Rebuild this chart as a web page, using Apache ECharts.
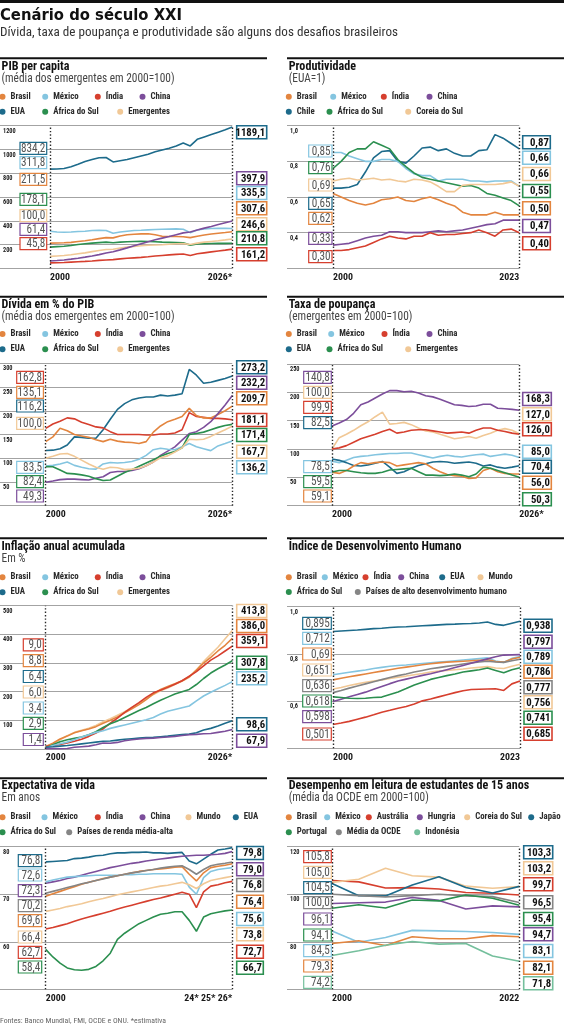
<!DOCTYPE html>
<html lang="pt-BR">
<head>
<meta charset="utf-8">
<title>Cenário do século XXI</title>
<script src="https://cdn.jsdelivr.net/npm/echarts@6.0.0/dist/echarts.min.js"></script>
<style>
html,body{margin:0;padding:0;background:#ffffff;}
#chart{width:564px;height:1024px;}
</style>
</head>
<body>
<div id="chart"></div>
<script>
// ================= CATEGORIES & TICK LABELS =================
const years2000to2026 = [2000,2001,2002,2003,2004,2005,2006,2007,2008,2009,2010,2011,2012,2013,2014,2015,2016,2017,2018,2019,2020,2021,2022,2023,2024,2025,2026];
const years2000to2023 = [2000,2001,2002,2003,2004,2005,2006,2007,2008,2009,2010,2011,2012,2013,2014,2015,2016,2017,2018,2019,2020,2021,2022,2023];
const pisaYears = [2000,2003,2006,2009,2012,2015,2018,2022];
const ticksTo2026 = ['2000','2026*'];
const ticksTo2023 = ['2000','2023'];
const ticksLife = ['2000','24* 25* 26*'];
const ticksPisa = ['2000','2022'];

// ================= PIB per capita =================
const pibEUA        = [834.2,836,840,855,875,898,915,930,932,895,905,915,930,945,960,980,995,1010,1030,1055,1030,1085,1105,1125,1145,1165,1189.1];
const pibMexico     = [311.8,305,303,305,310,312,318,320,318,295,305,312,318,320,323,326,328,330,332,328,300,322,332,335,336,336,335.5];
const pibBrasil     = [211.5,213,215,218,226,232,240,250,258,256,272,282,286,290,291,282,270,268,268,266,258,270,280,288,295,301,307.6];
const pibAfrica     = [178.1,182,186,192,200,206,212,216,220,215,220,224,226,227,226,224,220,218,216,214,195,205,208,209,210,210,210.8];
const pibEmergentes = [100.0,104,108,114,122,130,140,150,158,160,170,178,184,190,194,196,198,202,206,208,200,212,220,226,232,239,246.6];
const pibChina      = [61.4,65,70,77,85,94,104,115,128,140,155,172,190,207,224,240,254,268,283,298,306,322,338,352,368,383,397.9];
const pibIndia      = [45.8,47,49,52,55,58,62,67,70,73,79,84,88,92,97,103,108,113,117,120,108,122,130,138,146,153,161.2];

// ================= Produtividade =================
const prodChile  = [0.65,0.65,0.655,0.67,0.74,0.82,0.855,0.86,0.80,0.79,0.83,0.875,0.88,0.86,0.87,0.845,0.83,0.83,0.86,0.865,0.95,0.93,0.90,0.87];
const prodMexico = [0.85,0.85,0.83,0.815,0.80,0.80,0.81,0.81,0.80,0.76,0.73,0.72,0.72,0.69,0.70,0.70,0.70,0.69,0.69,0.685,0.69,0.69,0.69,0.66];
const prodAfrica = [0.76,0.80,0.85,0.87,0.87,0.91,0.89,0.87,0.81,0.77,0.735,0.71,0.70,0.69,0.68,0.67,0.66,0.665,0.65,0.62,0.61,0.595,0.58,0.55];
const prodCoreia = [0.69,0.70,0.705,0.695,0.70,0.705,0.695,0.70,0.69,0.685,0.70,0.695,0.685,0.66,0.63,0.63,0.665,0.67,0.67,0.67,0.67,0.675,0.685,0.66];
const prodBrasil = [0.62,0.60,0.58,0.565,0.555,0.565,0.585,0.59,0.60,0.58,0.575,0.59,0.60,0.585,0.565,0.55,0.515,0.50,0.50,0.50,0.515,0.50,0.50,0.50];
const prodChina  = [0.33,0.335,0.34,0.355,0.37,0.38,0.385,0.405,0.405,0.40,0.40,0.40,0.405,0.41,0.405,0.41,0.415,0.425,0.435,0.445,0.45,0.47,0.47,0.47];
const prodIndia  = [0.30,0.30,0.305,0.315,0.325,0.345,0.365,0.38,0.37,0.365,0.38,0.38,0.40,0.385,0.39,0.39,0.395,0.40,0.415,0.40,0.38,0.415,0.42,0.40];

// ================= Dívida em % do PIB =================
const divEUA        = [116.2,117,120,128,145,144,142,142,160,182,203,215,223,227,229,229,233,231,233,236,287,275,258,260,264,268,273.2];
const divIndia      = [162.8,172,178,185,183,176,171,166,164,156,150,150,150,150,149,149,151,151,153,160,196,188,186,184,184,183,181.1];
const divBrasil     = [135.1,145,163,158,150,147,144,139,135,140,136,134,133,131,135,155,168,177,182,188,205,190,185,185,192,200,209.7];
const divChina      = [49.3,52,55,56,56,55,54,58,61,70,72,72,74,78,84,92,106,115,124,138,152,156,165,177,194,212,232.2];
const divMexico     = [83.5,85,88,92,85,81,78,77,88,91,90,91,93,98,106,118,121,119,118,124,131,124,120,116,126,131,136.2];
const divAfrica     = [82.4,82,75,68,67,65,62,57,53,54,62,70,76,83,90,97,104,110,114,122,150,152,155,160,165,169,171.4];
const divEmergentes = [100.0,104,109,110,104,96,88,81,77,81,80,76,77,79,84,92,101,105,113,122,140,139,140,146,153,160,167.7];

// ================= Taxa de poupança =================
const poupChina      = [140.8,146,152,163,178,183,190,197,203,203,201,202,199,194,192,188,183,178,177,175,176,179,179,172,171,170,168.3];
const poupEmergentes = [100.0,120,126,133,141,148,157,165,144,145,147,143,137,132,130,126,122,118,120,122,119,124,128,133,136,133,127.0];
const poupIndia      = [99.9,102,106,112,118,122,126,131,135,128,130,133,134,134,132,130,128,129,130,128,133,137,137,133,131,128,126.0];
const poupMexico     = [78.5,76,80,85,87,88,90,91,92,92,93,93,90,87,84,87,89,87,86,88,90,91,87,89,91,89,85.0];
const poupEUA        = [82.5,80,76,71,70,72,75,78,68,57,60,66,71,74,77,78,77,75,76,77,75,70,72,68,66,68,70.4];
const poupBrasil     = [59.1,57,62,70,76,74,76,77,76,70,72,74,76,74,66,60,55,53,52,48,49,62,66,60,57,56,56.0];
const poupAfrica     = [59.5,62,62,60,58,57,57,59,63,64,65,66,60,54,54,53,54,56,54,51,56,68,66,62,58,54,50.3];

// ================= Inflação anual acumulada =================
const inflEmergentes = [6.0,18,32,46,58,65,72,82,95,106,118,130,145,160,175,190,203,213,225,236,250,276,305,330,355,385,413.8];
const inflBrasil     = [8.8,20,35,45,57,64,70,78,90,100,112,126,140,155,172,192,208,218,228,238,252,275,300,320,342,362,386.0];
const inflIndia      = [9.0,12,16,21,27,34,44,56,70,90,108,128,145,162,180,196,205,215,226,238,254,270,290,310,325,342,359.1];
const inflAfrica     = [2.9,15,25,32,37,42,50,60,75,88,98,110,122,134,145,158,170,181,192,200,208,225,246,265,280,293,307.8];
const inflMexico     = [3.4,12,18,24,32,42,50,58,64,72,78,84,90,96,102,110,122,132,138,144,150,168,185,198,210,222,235.2];
const inflEUA        = [6.4,8,10,12,15,18,21,24,27,28,31,34,36,38,40,41,43,45,48,50,52,57,66,72,80,90,98.6];
const inflChina      = [1.4,2,1,2,6,8,10,15,21,20,23,29,32,35,37,38,40,42,44,47,50,51,53,54,58,62,67.9];

// ================= IDH =================
const idhEUA    = [0.895,0.897,0.899,0.901,0.904,0.907,0.909,0.912,0.914,0.915,0.917,0.919,0.921,0.923,0.925,0.926,0.928,0.929,0.931,0.935,0.925,0.921,0.930,0.938];
const idhMexico = [0.712,0.717,0.722,0.727,0.732,0.738,0.743,0.748,0.751,0.753,0.756,0.759,0.762,0.765,0.768,0.771,0.774,0.777,0.780,0.783,0.770,0.764,0.781,0.789];
const idhBrasil = [0.69,0.697,0.703,0.709,0.715,0.721,0.727,0.733,0.739,0.744,0.749,0.754,0.758,0.762,0.765,0.767,0.769,0.771,0.773,0.775,0.768,0.765,0.778,0.786];
const idhMundo  = [0.651,0.658,0.666,0.673,0.680,0.685,0.690,0.696,0.701,0.706,0.712,0.717,0.723,0.727,0.730,0.733,0.736,0.740,0.743,0.746,0.740,0.738,0.748,0.756];
const idhAlto   = [0.636,0.645,0.655,0.664,0.673,0.682,0.691,0.700,0.708,0.715,0.723,0.730,0.737,0.742,0.747,0.752,0.757,0.762,0.766,0.769,0.766,0.764,0.771,0.777];
const idhChina  = [0.598,0.608,0.618,0.628,0.638,0.650,0.662,0.674,0.685,0.693,0.701,0.709,0.716,0.724,0.733,0.742,0.751,0.760,0.770,0.779,0.788,0.795,0.796,0.797];
const idhAfrica = [0.618,0.615,0.612,0.611,0.612,0.615,0.617,0.628,0.639,0.653,0.668,0.680,0.692,0.700,0.708,0.715,0.723,0.728,0.733,0.740,0.730,0.720,0.733,0.741];
const idhIndia  = [0.501,0.507,0.514,0.523,0.532,0.542,0.553,0.561,0.570,0.577,0.588,0.601,0.609,0.618,0.627,0.636,0.644,0.649,0.650,0.651,0.652,0.645,0.673,0.685];

// ================= Expectativa de vida =================
const expEUA    = [76.8,76.9,77.0,77.1,77.5,77.6,77.8,78.1,78.2,78.5,78.7,78.7,78.8,78.8,78.9,78.7,78.7,78.6,78.7,78.8,77.0,76.4,77.4,78.4,79.3,79.5,79.8];
const expChina  = [72.3,72.6,72.9,73.3,73.6,74.0,74.4,74.8,75.2,75.6,75.9,76.2,76.5,76.7,77.0,77.2,77.4,77.6,77.8,78.0,78.1,78.2,78.2,78.3,78.4,78.6,79.0];
const expMexico = [72.6,73.0,73.3,73.6,73.7,73.8,73.9,74.0,74.0,74.0,74.0,74.1,74.1,74.2,74.2,74.3,74.3,74.3,74.3,74.2,71.5,70.0,73.5,74.8,75.2,75.4,75.6];
const expBrasil = [69.6,70.1,70.6,71.1,71.6,72.1,72.5,72.9,73.3,73.6,73.9,74.2,74.5,74.8,75.0,75.2,75.3,75.5,75.7,75.8,74.2,72.8,74.5,75.6,75.9,76.1,76.4];
const expRenda  = [70.2,70.6,71.0,71.4,71.8,72.2,72.5,72.9,73.2,73.6,73.9,74.2,74.5,74.7,75.0,75.2,75.5,75.7,75.9,76.0,75.2,74.2,75.2,76.0,76.3,76.5,76.8];
const expMundo  = [66.4,66.7,67.0,67.4,67.7,68.0,68.4,68.8,69.1,69.5,69.9,70.2,70.5,70.8,71.1,71.4,71.7,71.9,72.2,72.5,72.0,71.2,72.2,72.9,73.2,73.5,73.8];
const expIndia  = [62.7,63.0,63.4,63.8,64.3,64.8,65.2,65.6,66.0,66.4,66.9,67.3,67.7,68.1,68.5,68.9,69.2,69.6,70.0,70.4,70.0,67.2,70.5,71.7,72.0,72.4,72.7];
const expAfrica = [58.4,56.8,55.5,54.5,54.1,54.0,54.2,54.8,56.0,57.6,60.5,61.8,62.8,63.8,64.5,65.2,65.8,66.0,66.3,66.3,64.5,62.2,65.2,65.9,66.2,66.5,66.7];

// ================= Leitura (PISA) =================
const leiAustralia = [105.8,105.2,102.6,102.8,102.2,100.7,100.4,99.7];
const leiCoreia    = [105.0,106.3,110.9,107.8,107.2,103.4,102.5,103.2];
const leiJapao     = [104.5,99.4,99.3,103.9,107.4,102.8,100.5,103.3];
const leiOCDE      = [100.0,99.4,98.9,99.4,100.0,99.3,99.0,96.5];
const leiHungria   = [96.1,96.4,96.7,98.6,97.4,93.8,95.1,94.7];
const leiPortugal  = [94.1,95.6,94.2,97.6,97.2,99.7,98.3,95.4];
const leiMexico    = [84.5,79.8,81.8,84.8,84.6,84.3,83.9,83.1];
const leiBrasil    = [79.3,80.4,78.4,82.1,81.3,81.3,82.6,82.1];
const leiIndonesia = [74.2,76.2,78.5,80.1,79.0,79.3,74.0,71.8];

// ================= FONT PICK & WIDTH CALIBRATION =================
const cv = document.createElement('canvas').getContext('2d');
const tw = (font, s) => { cv.font = font; return cv.measureText(s).width; };
const probe = 'abcdefghijklmnopqrstuvwxyzABCDEFGHIJ0123456789';
const has = (fam) => ['monospace','serif'].some(g => Math.abs(tw('20px "' + fam + '", ' + g, probe) - tw('20px ' + g, probe)) > 0.01);
const FAM = ['Liberation Sans Narrow','Roboto Condensed','DejaVu Sans Condensed','Arial Narrow','Roboto','Liberation Sans'].find(has);
const FONT = FAM ? '"' + FAM + '", sans-serif' : 'sans-serif';
const TFONT = has('DejaVu Sans') ? '"DejaVu Sans", sans-serif' : FONT;

// text classes: nominal weight/size and the width a sample string has in the reference
const CLS = {
  head:   {w:'bold',   s:15,   f:TFONT, sample:'Cenário do século XXI', target:182},
  sub0:   {w:'normal', s:13,   f:FONT, sample:'Dívida, taxa de poupança e produtividade são alguns dos desafios brasileiros', target:398},
  ptitle: {w:'bold',   s:12.5, f:FONT, sample:'PIB per capita', target:68},
  psub:   {w:'normal', s:12,   f:FONT, sample:'(média dos emergentes em 2000=100)', target:173},
  legend: {w:'bold',   s:9,    f:FONT, sample:'Emergentes', target:41.7},
  xlab:   {w:'bold',   s:10.5, f:FONT, sample:'2000', target:20},
  ylab:   {w:'bold',   s:7,    f:FONT, sample:'1200', target:12.7},
  lbox:   {w:'normal', s:12,   f:FONT, sample:'834,2', target:24.3},
  rbox:   {w:'bold',   s:11.5, f:FONT, sample:'397,9', target:24.3},
  foot:   {w:'normal', s:8,    f:FONT, sample:'Fontes: Banco Mundial, FMI, OCDE e ONU. *estimativa', target:166}
};
const K = {};
Object.keys(CLS).forEach(k => {
  const c = CLS[k];
  c.font = c.w + ' ' + c.s + 'px ' + c.f;
  K[k] = Math.max(0.6, Math.min(1.3, c.target / tw(c.font, c.sample)));
});
const compSize = (k) => +(CLS[k].s * Math.min(1.05, K[k])).toFixed(2);

// ================= STYLE =================
const COL = {
  'Brasil':'#e3853f', 'México':'#84c5e0', 'Índia':'#d63f2e', 'China':'#7c4e9b',
  'EUA':'#1d6b8b', 'Chile':'#1d6b8b', 'Japão':'#1d6b8b',
  'África do Sul':'#2b8f4f', 'Portugal':'#2b8f4f',
  'Emergentes':'#f1c896', 'Coreia do Sul':'#f1c896', 'Mundo':'#f1c896',
  'Países de alto desenvolvimento humano':'#858585', 'Países de renda média-alta':'#858585', 'Média da OCDE':'#858585',
  'Austrália':'#d63f2e', 'Hungria':'#7c4e9b', 'Indonésia':'#74bf9c'
};
const fmt = (v, dec) => (dec == null ? String(v) : v.toFixed(dec)).replace('.', ',');

// ================= PANELS (layout + references to data) =================
const panels = [
 { title:'PIB per capita', sub:'(média dos emergentes em 2000=100)', rule:[0,58.3,267], tx:1.5, ty:66.7, sy:79.3,
   legY:[96.7,111.7], legend:[[['Brasil',4],['México',46.7],['Índia',99.3],['China',144]],[['EUA',4],['África do Sul',46.7],['Emergentes',121.7]]],
   grid:{left:0, top:125.7, bottom:268.3, x0:50, x1:232.3}, y:{min:0,max:1200,interval:200,dec:0},
   cats:years2000to2026, ticks:ticksTo2026, alignMax:'right', dec:1,
   series:[['EUA',pibEUA],['México',pibMexico],['Brasil',pibBrasil],['África do Sul',pibAfrica],['Emergentes',pibEmergentes],['China',pibChina],['Índia',pibIndia]],
   lb:{x:20,w:26.7,items:[['EUA',148.3],['México',162.7],['Brasil',179.3],['África do Sul',199.3],['Emergentes',215.7],['China',229.3],['Índia',243.7]]},
   rb:{x:236.7,w:30,items:[['EUA',132.3],['China',178.3],['México',193],['Brasil',208.3],['Emergentes',224.3],['África do Sul',238.3],['Índia',254.3]]} },
 { title:'Produtividade', sub:'(EUA=1)', rule:[287,58.3,564], tx:288.7, ty:66.7, sy:79.3,
   legY:[96.7,111.7], legend:[[['Brasil',290.3],['México',334.7],['Índia',385.3],['China',431]],[['Chile',290.3],['África do Sul',331],['Coreia do Sul',409.7]]],
   grid:{left:287, top:125.7, bottom:268.3, x0:333, x1:519.3}, y:{min:0.2,max:1.0,interval:0.2,dec:1},
   cats:years2000to2023, ticks:ticksTo2023, alignMax:'right', dec:2,
   series:[['Chile',prodChile],['México',prodMexico],['África do Sul',prodAfrica],['Coreia do Sul',prodCoreia],['Brasil',prodBrasil],['China',prodChina],['Índia',prodIndia]],
   lb:{x:308.7,w:23.3,items:[['México',151],['África do Sul',167.7],['Coreia do Sul',185],['Chile',203.3],['Brasil',218.3],['China',238.3],['Índia',256.7]]},
   rb:{x:522.7,w:27.6,items:[['Chile',142.3],['México',157.7],['Coreia do Sul',174],['África do Sul',191],['Brasil',208.3],['China',226],['Índia',243.3]]} },
 { title:'Dívida em % do PIB', sub:'(média dos emergentes em 2000=100)', rule:[0,296.7,267], tx:1.5, ty:305.3, sy:316.5,
   legY:[334,349.3], legend:[[['Brasil',4],['México',46.7],['Índia',99.3],['China',144]],[['EUA',4],['África do Sul',46.7],['Emergentes',121.7]]],
   grid:{left:0, top:363.3, bottom:505.7, x0:45.7, x1:232.3}, y:{min:0,max:300,interval:50,dec:0},
   cats:years2000to2026, ticks:ticksTo2026, alignMax:'right', dec:1,
   series:[['EUA',divEUA],['Índia',divIndia],['Brasil',divBrasil],['China',divChina],['México',divMexico],['África do Sul',divAfrica],['Emergentes',divEmergentes]],
   lb:{x:16.7,w:26.7,items:[['Índia',377.3],['Brasil',392.3],['EUA',406],['Emergentes',423.3],['México',467.3],['África do Sul',481.7],['China',496]]},
   rb:{x:236.7,w:30,items:[['EUA',367.3],['China',382.7],['Brasil',398.3],['Índia',420],['África do Sul',435],['Emergentes',451.7],['México',467.3]]} },
 { title:'Taxa de poupança', sub:'(emergentes em 2000=100)', rule:[287,296.7,564], tx:288.7, ty:305.3, sy:316.5,
   legY:[334,349.3], legend:[[['Brasil',290.3],['México',332.7],['Índia',386],['China',431]],[['EUA',290.3],['África do Sul',331],['Emergentes',409.7]]],
   grid:{left:287, top:364, bottom:505.7, x0:332, x1:519.3}, y:{min:0,max:250,interval:50,dec:0},
   cats:years2000to2026, ticks:ticksTo2026, alignMax:'left', dec:1,
   series:[['China',poupChina],['Emergentes',poupEmergentes],['Índia',poupIndia],['México',poupMexico],['EUA',poupEUA],['Brasil',poupBrasil],['África do Sul',poupAfrica]],
   lb:{x:303.7,w:27.6,items:[['China',377.3],['Emergentes',392.3],['Índia',407.3],['EUA',422.7],['México',466.7],['África do Sul',481.7],['Brasil',496]]},
   rb:{x:522.7,w:28.6,items:[['China',399],['Emergentes',414.3],['Índia',429.3],['México',451.7],['EUA',466.7],['Brasil',482.7],['África do Sul',499.3]]} },
 { title:'Inflação anual acumulada', sub:'Em %', rule:[0,538.3,267], tx:1.5, ty:546.7, sy:559,
   legY:[577.3,592.3], legend:[[['Brasil',4],['México',46.7],['Índia',99.3],['China',144]],[['EUA',4],['África do Sul',46.7],['Emergentes',121.7]]],
   grid:{left:0, top:605.7, bottom:749, x0:45.7, x1:232.3}, y:{min:0,max:500,interval:100,dec:0},
   cats:years2000to2026, ticks:ticksTo2026, alignMax:'right', dec:1,
   series:[['Emergentes',inflEmergentes],['Brasil',inflBrasil],['Índia',inflIndia],['África do Sul',inflAfrica],['México',inflMexico],['EUA',inflEUA],['China',inflChina]],
   lb:{x:23.3,w:20,items:[['Índia',644.8],['Brasil',660.7],['EUA',676.5],['Emergentes',692],['México',708],['África do Sul',723.3],['China',739.5]]},
   rb:{x:236.7,w:30,items:[['Emergentes',611],['Brasil',626],['Índia',641],['África do Sul',662.8],['México',678.3],['EUA',724.2],['China',740.8]]} },
 { title:'Índice de Desenvolvimento Humano', sub:null, rule:[287,538.3,564], tx:288.7, ty:546.7, sy:559,
   legY:[577.3,592], legend:[[['Brasil',290.3],['México',326.3],['Índia',367],['China',402.7],['EUA',443.7],['Mundo',482]],[['África do Sul',290.3],['Países de alto desenvolvimento humano',359.3]]],
   grid:{left:287, top:606.7, bottom:748.3, x0:333, x1:520}, y:{min:0.4,max:1.0,interval:0.2,dec:1},
   cats:years2000to2023, ticks:ticksTo2023, alignMax:'right', dec:null,
   series:[['EUA',idhEUA],['México',idhMexico],['Brasil',idhBrasil],['Mundo',idhMundo],['Países de alto desenvolvimento humano',idhAlto],['China',idhChina],['África do Sul',idhAfrica],['Índia',idhIndia]],
   lb:{x:302.7,w:28.6,items:[['EUA',623.3],['México',638.3],['Brasil',654],['Mundo',670],['Países de alto desenvolvimento humano',685.7],['África do Sul',701],['China',716.7],['Índia',734]]},
   rb:{x:524,w:28,items:[['EUA',625.7],['China',641.7],['México',656.7],['Brasil',671.7],['Países de alto desenvolvimento humano',687.3],['Mundo',702.3],['África do Sul',717.7],['Índia',733.7]]} },
 { title:'Expectativa de vida', sub:'Em anos', rule:[0,778.3,267], tx:1.5, ty:785.7, sy:798.3,
   legY:[817.3,832.3], legend:[[['Brasil',4],['México',46],['Índia',99.3],['China',144],['Mundo',190],['EUA',237.3]],[['África do Sul',4],['Países de renda média-alta',70.7]]],
   grid:{left:0, top:846.7, bottom:989.3, x0:45.7, x1:232.3}, y:{min:50,max:80,interval:10,dec:0},
   cats:years2000to2026, ticks:ticksLife, alignMax:'right', dec:1,
   series:[['EUA',expEUA],['China',expChina],['México',expMexico],['Brasil',expBrasil],['Países de renda média-alta',expRenda],['Mundo',expMundo],['Índia',expIndia],['África do Sul',expAfrica]],
   lb:{x:18.3,w:23.4,items:[['EUA',860.7],['México',875],['China',890.7],['Países de renda média-alta',905.7],['Brasil',920.7],['Mundo',937],['Índia',952.3],['África do Sul',967]]},
   rb:{x:236.7,w:26.6,items:[['EUA',853],['China',869.3],['Países de renda média-alta',885],['Brasil',901.7],['México',919],['Mundo',934.3],['Índia',951.7],['África do Sul',967.7]]} },
 { title:'Desempenho em leitura de estudantes de 15 anos', sub:'(média da OCDE em 2000=100)', rule:[287,778.3,564], tx:288.7, ty:785.7, sy:798.3,
   legY:[817.3,832.3], legend:[[['Brasil',290.3],['México',328.7],['Austrália',370.3],['Hungria',421.3],['Coreia do Sul',468.7],['Japão',532.7]],[['Portugal',290.3],['Média da OCDE',340.3],['Indonésia',418.7]]],
   grid:{left:287, top:846.7, bottom:989.3, x0:332, x1:519.3}, y:{min:60,max:120,interval:20,dec:0},
   cats:pisaYears, ticks:ticksPisa, alignMax:'right', dec:1,
   series:[['Austrália',leiAustralia],['Coreia do Sul',leiCoreia],['Japão',leiJapao],['Média da OCDE',leiOCDE],['Hungria',leiHungria],['Portugal',leiPortugal],['México',leiMexico],['Brasil',leiBrasil],['Indonésia',leiIndonesia]],
   lb:{x:303.7,w:27.6,items:[['Austrália',856.7],['Coreia do Sul',872.3],['Japão',887.7],['Média da OCDE',902.7],['Hungria',919],['Portugal',935],['México',950.7],['Brasil',966],['Indonésia',982.3]]},
   rb:{x:523.7,w:29,items:[['Japão',852.3],['Coreia do Sul',868.3],['Austrália',884.3],['Média da OCDE',902.3],['Portugal',919],['Hungria',934.3],['México',951],['Brasil',967.7],['Indonésia',983.3]]} }
];

// ================= BUILD OPTION =================
const option = { animation:false, backgroundColor:'#ffffff', grid:[], xAxis:[], yAxis:[], series:[], legend:[], graphic:[] };
const G = option.graphic;
const T = (x, y, text, cls, fill, extra) => ({
  type:'text', x, y, scaleX:K[cls], z:101,
  style:Object.assign({text, font:CLS[cls].font, fill, verticalAlign:'middle'}, extra || {})
});

// header & footer
G.push({type:'rect', shape:{x:0,y:0,width:564,height:3}, style:{fill:'#111'}});
G.push(T(0, 16.6, 'Cenário do século XXI', 'head', '#111'));
G.push(T(0, 33, 'Dívida, taxa de poupança e produtividade são alguns dos desafios brasileiros', 'sub0', '#333'));
G.push(T(0, 1020.5, 'Fontes: Banco Mundial, FMI, OCDE e ONU. *estimativa', 'foot', '#666'));

panels.forEach((p, i) => {
  const n = p.cats.length;
  const pxPer = (p.grid.x1 - p.grid.x0) / (n - 1);
  const xMin = -(p.grid.x0 - p.grid.left) / pxPer;
  option.grid.push({left:p.grid.left, top:p.grid.top, width:p.grid.x1 - p.grid.left, height:p.grid.bottom - p.grid.top});
  option.xAxis.push({
    type:'value', gridIndex:i, min:xMin, max:n - 1,
    axisLine:{show:false}, axisTick:{show:false}, splitLine:{show:false},
    axisLabel:{ customValues:[0, n - 1], formatter:(v) => (v === 0 ? p.ticks[0] : p.ticks[1]),
      alignMinLabel:'left', alignMaxLabel:p.alignMax, margin:4, color:'#1a1a1a',
      fontFamily:FONT, fontWeight:'bold', fontSize:compSize('xlab') }
  });
  option.yAxis.push({
    type:'value', gridIndex:i, min:p.y.min, max:p.y.max, interval:p.y.interval,
    axisLine:{show:false}, axisTick:{show:false},
    splitLine:{show:true, lineStyle:{color:'#a3a3a3', width:1}},
    axisLabel:{ inside:true, margin:3, showMinLabel:false, verticalAlign:'top', padding:[2.5,0,0,0],
      color:'#1a1a1a', fontFamily:FONT, fontWeight:'bold', fontSize:compSize('ylab'),
      formatter:(v) => fmt(v, p.y.dec) }
  });
  const lookup = {};
  p.series.forEach(([name, arr], k) => {
    lookup[name] = arr;
    const s = {
      type:'line', name, xAxisIndex:i, yAxisIndex:i, silent:true,
      data: arr.map((v, idx) => [idx, v]),
      symbol:'none', showSymbol:false, emphasis:{disabled:true},
      lineStyle:{width:1.6, color:COL[name]}, itemStyle:{color:COL[name]}, z:3
    };
    if (k === 0) {
      s.markLine = { silent:true, symbol:['none','none'], label:{show:false}, animation:false,
        lineStyle:{type:[1.4,2], color:'#2a2a2a', width:1.4},
        data:[{xAxis:0}, {xAxis:n - 1}] };
    }
    option.series.push(s);
  });
  // rule, title, subtitle
  G.push({type:'rect', shape:{x:p.rule[0], y:p.rule[1] - 1, width:p.rule[2] - p.rule[0], height:2}, style:{fill:'#111'}});
  G.push(T(p.tx, p.ty, p.title, 'ptitle', '#111'));
  if (p.sub) G.push(T(p.tx, p.sy, p.sub, 'psub', '#444'));
  // legends (one per item, placed in the reference's columns)
  p.legend.forEach((row, r) => row.forEach(([name, cx]) => {
    option.legend.push({
      left:cx - 4.5, top:p.legY[r] - 5, padding:0, itemWidth:6, itemHeight:6, icon:'circle',
      selectedMode:false, itemStyle:{borderWidth:0},
      data:[{name, itemStyle:{color:COL[name]}}],
      textStyle:{fontFamily:FONT, fontWeight:'bold', fontSize:compSize('legend'), color:'#2a2a2a', lineHeight:10}
    });
  }));
  // start / end value boxes
  p.lb.items.forEach(([name, cy]) => {
    const v = lookup[name][0];
    G.push({type:'rect', z:100, shape:{x:p.lb.x, y:cy - 6, width:p.lb.w, height:12}, style:{fill:'#fff', stroke:COL[name], lineWidth:1.2}});
    G.push(T(p.lb.x + p.lb.w - 1.5, cy + 0.5, fmt(v, p.dec), 'lbox', '#555', {align:'right'}));
  });
  p.rb.items.forEach(([name, cy]) => {
    const arr = lookup[name];
    const v = arr[arr.length - 1];
    G.push({type:'rect', z:100, shape:{x:p.rb.x, y:cy - 6.5, width:p.rb.w, height:13}, style:{fill:'#fff', stroke:COL[name], lineWidth:1.6}});
    G.push(T(p.rb.x + p.rb.w - 1.5, cy + 0.5, fmt(v, p.dec), 'rbox', '#111', {align:'right'}));
  });
});

const chart = echarts.init(document.getElementById('chart'), null, {renderer:'canvas', width:564, height:1024});
chart.setOption(option);
</script>
</body>
</html>
